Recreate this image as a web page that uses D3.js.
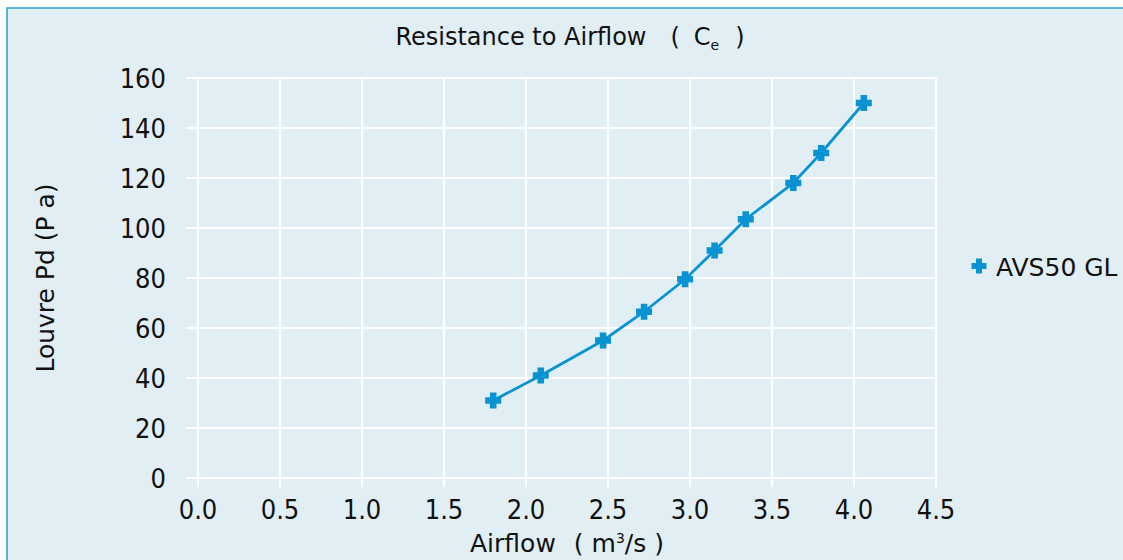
<!DOCTYPE html>
<html>
<head>
<meta charset="utf-8">
<style>
body { margin: 0; background: #fff; }
text { font-family: "DejaVu Sans", Verdana, sans-serif; fill: #111; }
.tick-label { font-family: "DejaVu Sans Condensed", "DejaVu Sans", sans-serif; font-stretch: condensed; font-size: 27px; }
.grid line { stroke: #fff; stroke-width: 2; }
</style>
</head>
<body>
<svg width="1123" height="560"></svg>
<script src="https://cdn.jsdelivr.net/npm/d3@7"></script>
<script>

// data
var airflow = [1.80, 2.09, 2.47, 2.72, 2.97, 3.15, 3.34, 3.63, 3.80, 4.06];
var pressure = [31, 41, 55, 66.5, 79.5, 91, 103.5, 118, 130, 150];
var xTicks = [0, 0.5, 1, 1.5, 2, 2.5, 3, 3.5, 4, 4.5];
var yTicks = [0, 20, 40, 60, 80, 100, 120, 140, 160];
var seriesName = "AVS50 GL";

var svg = d3.select("svg"),
    margin = {top: 78, left: 198},
    width = 738,
    height = 400,
    blue = "#0a93d2";

// panel + frame
svg.append("rect")
    .attr("x", 7).attr("y", 8)
    .attr("width", 1123).attr("height", 560)
    .attr("fill", "#e1eef4");
svg.append("path")
    .attr("d", "M7,560V8H1123")
    .attr("fill", "none")
    .attr("stroke", "#2a9fd6")
    .attr("stroke-width", 1.5);

var x = d3.scaleLinear().domain([0, 4.5]).range([0, width]),
    y = d3.scaleLinear().domain([0, 160]).range([height, 0]);

// chunky plus marker
function plus(r, t) {
  return "M" + -t + "," + -r + "H" + t + "V" + -t + "H" + r + "V" + t + "H" + t +
         "V" + r + "H" + -t + "V" + t + "H" + -r + "V" + -t + "H" + -t + "Z";
}

var g = svg.append("g")
    .attr("transform", "translate(" + margin.left + "," + margin.top + ")");

// gridlines (stick out past the plot like tick marks)
g.append("g").attr("class", "grid")
  .selectAll("line").data(yTicks).enter().append("line")
    .attr("x1", -12).attr("x2", width)
    .attr("y1", function(d) { return y(d); })
    .attr("y2", function(d) { return y(d); });

g.append("g").attr("class", "grid")
  .selectAll("line").data(xTicks).enter().append("line")
    .attr("y1", 0).attr("y2", height + 9)
    .attr("x1", function(d) { return x(d); })
    .attr("x2", function(d) { return x(d); });

// tick labels
g.selectAll(".ylab").data(yTicks).enter().append("text")
    .attr("class", "tick-label")
    .attr("x", -32)
    .attr("y", function(d) { return y(d); })
    .attr("dy", "0.36em")
    .attr("text-anchor", "end")
    .text(function(d) { return d; });

g.selectAll(".xlab").data(xTicks).enter().append("text")
    .attr("class", "tick-label")
    .attr("x", function(d) { return x(d); })
    .attr("y", height + 41)
    .attr("text-anchor", "middle")
    .text(function(d) { return d.toFixed(1); });

// series
var pts = airflow.map(function(v, i) { return [v, pressure[i]]; });

g.append("path")
    .datum(pts)
    .attr("fill", "none")
    .attr("stroke", blue)
    .attr("stroke-width", 2.8)
    .attr("d", d3.line()
        .x(function(d) { return x(d[0]); })
        .y(function(d) { return y(d[1]); }));

g.selectAll(".pt").data(pts).enter().append("path")
    .attr("class", "pt")
    .attr("transform", function(d) { return "translate(" + x(d[0]) + "," + y(d[1]) + ")"; })
    .attr("d", plus(8, 3.3))
    .attr("fill", blue);

// legend
svg.append("path")
    .attr("transform", "translate(979,266)")
    .attr("d", plus(7.5, 3))
    .attr("fill", blue);
svg.append("text")
    .attr("x", 996).attr("y", 276)
    .style("font-size", "25px")
    .text(seriesName);

// title
var title = svg.append("text")
    .attr("x", 570).attr("y", 45)
    .attr("text-anchor", "middle")
    .style("font-size", "24px");
title.append("tspan").text("Resistance to Airflow");
title.append("tspan").attr("dx", 24).text("(");
title.append("tspan").attr("dx", 14).text("C");
title.append("tspan").attr("dy", 5).style("font-size", "14px").text("e");
title.append("tspan").attr("dy", -5).attr("dx", 16).text(")");

// axis titles
var xt = svg.append("text")
    .attr("x", 567).attr("y", 552)
    .attr("text-anchor", "middle")
    .style("font-size", "25px");
xt.append("tspan").text("Airflow");
xt.append("tspan").attr("dx", 18).text("( m");
xt.append("tspan").attr("dy", -9).style("font-size", "14px").text("3");
xt.append("tspan").attr("dy", 9).text("/s )");

svg.append("text")
    .attr("transform", "translate(54,278) rotate(-90)")
    .attr("text-anchor", "middle")
    .style("font-size", "25px")
    .text("Louvre Pd (P a)");

</script>
</body>
</html>
